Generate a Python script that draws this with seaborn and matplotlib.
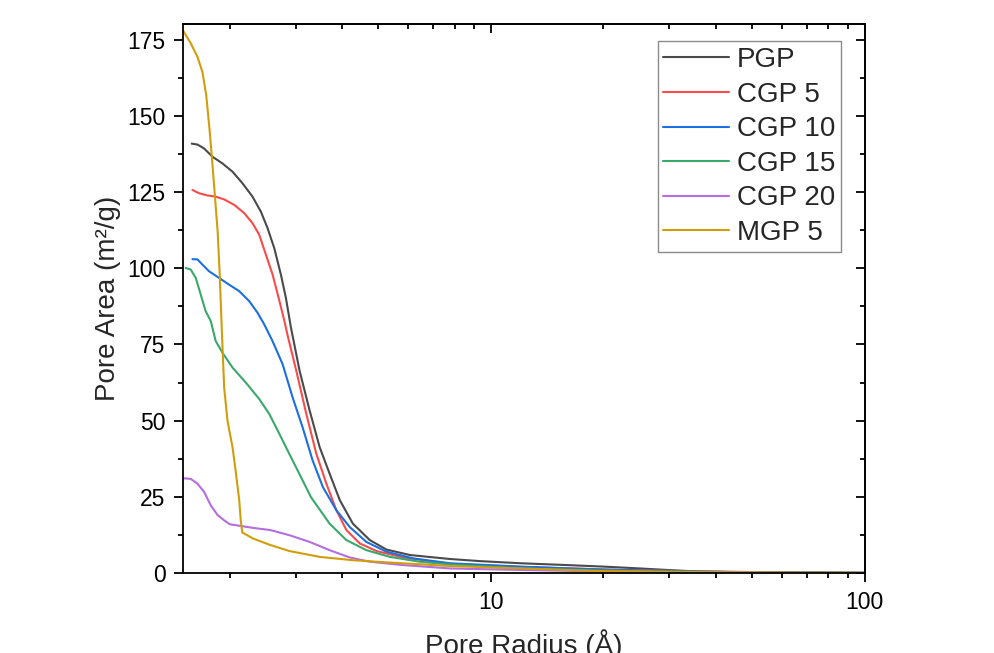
import matplotlib
matplotlib.use("Agg")
import matplotlib.pyplot as plt
import matplotlib.ticker as mticker
import numpy as np
import pandas as pd
import seaborn as sns

# pore radius (Å) / pore area (m²/g)
pgp_x = [1.582, 1.639, 1.708, 1.798, 1.912, 2.034, 2.163, 2.301, 2.422, 2.524, 2.631, 2.741, 2.826, 2.915,
         3.076, 3.272, 3.48, 3.70, 3.94, 4.27, 4.74, 5.25, 6.07, 7.76, 9.35, 12, 16, 20, 25, 29.6, 35.6, 45, 65, 100]
pgp_y = [140.9, 140.6, 139.3, 136.6, 134.4, 131.7, 127.9, 123.5, 118.6, 113.2, 106.6, 97.9, 90.3, 80.6,
         66.3, 53.3, 41.3, 32.6, 23.9, 16.2, 10.8, 7.7, 5.9, 4.6, 3.9, 3.2, 2.6, 2.1, 1.5, 1.0, 0.5, 0.3, 0.15, 0.05]

cgp5_x = [1.589, 1.656, 1.743, 1.834, 1.932, 2.056, 2.186, 2.301, 2.398, 2.498, 2.603, 2.714, 2.799, 2.856,
          3.014, 3.205, 3.41, 3.627, 3.857, 4.103, 4.456, 4.94, 5.82, 7.76, 12, 20, 35, 60, 100]
cgp5_y = [125.7, 124.6, 123.9, 123.5, 122.6, 120.8, 118.1, 114.8, 111.0, 104.5, 98.0, 89.4, 82.8, 78.0,
          66.3, 52.2, 39.1, 29.3, 20.6, 14.1, 9.7, 7.2, 5.1, 3.0, 2.0, 1.2, 0.5, 0.2, 0.05]

cgp10_x = [1.589, 1.639, 1.690, 1.761, 1.874, 1.993, 2.120, 2.255, 2.373, 2.473, 2.603, 2.770, 2.946, 3.133,
           3.333, 3.55, 3.857, 4.188, 4.64, 5.25, 6.19, 7.76, 12, 20, 35, 60, 100]
cgp10_y = [103.0, 102.9, 101.2, 99.0, 96.8, 94.6, 92.5, 89.2, 85.4, 81.6, 76.1, 68.5, 57.6, 47.8,
           36.9, 28.2, 20.6, 15.1, 10.2, 7.0, 4.8, 3.2, 2.1, 1.1, 0.5, 0.2, 0.05]

cgp15_x = [1.524, 1.572, 1.622, 1.672, 1.724, 1.779, 1.834, 1.912, 2.034, 2.208, 2.398, 2.551, 2.714, 2.886,
           3.069, 3.298, 3.70, 4.103, 4.64, 5.36, 6.45, 7.76, 12, 20, 35, 60, 100]
cgp15_y = [100.1, 99.6, 96.8, 91.4, 85.9, 82.7, 76.1, 72.3, 67.4, 62.5, 57.1, 52.2, 45.7, 39.1,
           32.6, 24.9, 16.2, 10.8, 7.5, 5.3, 3.7, 2.8, 1.5, 0.8, 0.4, 0.15, 0.05]

cgp20_x = [1.49, 1.572, 1.639, 1.708, 1.779, 1.856, 1.932, 2.0, 2.31, 2.566, 2.89, 3.272, 3.70, 4.188,
           4.74, 5.82, 7.76, 12, 20, 35, 60, 100]
cgp20_y = [31.1, 30.9, 29.3, 26.6, 22.2, 19.0, 17.3, 16.0, 14.8, 14.1, 12.4, 10.2, 7.5, 5.1,
           3.7, 2.6, 1.5, 1.0, 0.5, 0.3, 0.1, 0.05]

mgp5_x = [1.50, 1.57, 1.64, 1.69, 1.73, 1.768, 1.798, 1.827, 1.856, 1.88, 1.903, 1.932, 1.972, 2.034, 2.073,
          2.12, 2.14, 2.16, 2.31, 2.566, 2.89, 3.48, 4.27, 5.25, 7.76, 12, 19.2, 30, 45, 70, 100]
mgp5_y = [178, 174, 169.3, 164.4, 156.8, 144.8, 133.9, 123.0, 112.1, 97.9, 80.5, 60.9, 50, 41.3, 33.7,
          23.9, 17.3, 13.3, 11.3, 9.2, 7.2, 5.3, 4.2, 3.5, 2.3, 1.5, 0.65, 0.35, 0.2, 0.1, 0.05]

names = ["PGP", "CGP 5", "CGP 10", "CGP 15", "CGP 20", "MGP 5"]
colors = ["#4a4a4a", "#fa4b4b", "#1c6fde", "#3aa86b", "#b46ee0", "#d29d0c"]
series = [(pgp_x, pgp_y), (cgp5_x, cgp5_y), (cgp10_x, cgp10_y),
          (cgp15_x, cgp15_y), (cgp20_x, cgp20_y), (mgp5_x, mgp5_y)]

frames = []
for name, (xs, ys) in zip(names, series):
    frames.append(pd.DataFrame({"radius": xs, "area": ys, "sample": name}))
df = pd.concat(frames, ignore_index=True)

sns.set_style("white")
plt.rcParams["font.family"] = ["Liberation Sans", "DejaVu Sans"]

fig = plt.figure(figsize=(9.95, 6.53), dpi=100)
ax = fig.add_axes([0.184, 0.1225, 0.685, 0.840])

sns.lineplot(data=df, x="radius", y="area", hue="sample", hue_order=names,
             palette=dict(zip(names, colors)), linewidth=1.5, sort=False,
             estimator=None, ax=ax)
for ln in ax.get_lines():
    ln.set_solid_joinstyle("round")

ax.set_xscale("log")
ax.set_xlim(1.5, 100)
ax.set_ylim(0, 180)

ax.yaxis.set_major_locator(mticker.MultipleLocator(25))
ax.yaxis.set_minor_locator(mticker.MultipleLocator(12.5))
ax.xaxis.set_major_formatter(mticker.FuncFormatter(lambda v, p: "%g" % v))
ax.xaxis.set_minor_formatter(mticker.NullFormatter())

for s in ax.spines.values():
    s.set_color("black")
    s.set_linewidth(1.3)

ax.tick_params(which="both", direction="out", width=1.3, labelsize=16.5,
               colors="black", bottom=True, left=True)
ax.tick_params(which="major", length=6.5)
ax.tick_params(which="minor", length=3.5)
ax.tick_params(axis="x", which="major", pad=6.5)
ax.tick_params(axis="y", which="major", pad=6)

# inward ticks on top / right
top = ax.secondary_xaxis("top")
top.xaxis.set_major_locator(mticker.LogLocator(base=10))
top.xaxis.set_minor_locator(mticker.LogLocator(base=10, subs=np.arange(2, 10)))
top.xaxis.set_major_formatter(mticker.NullFormatter())
top.xaxis.set_minor_formatter(mticker.NullFormatter())
top.tick_params(which="both", direction="in", width=1.3, colors="black")
top.tick_params(which="major", length=6.5)
top.tick_params(which="minor", length=3.5)
top.spines["top"].set_linewidth(1.3)

right = ax.secondary_yaxis("right")
right.yaxis.set_major_locator(mticker.MultipleLocator(25))
right.yaxis.set_minor_locator(mticker.MultipleLocator(12.5))
right.yaxis.set_major_formatter(mticker.NullFormatter())
right.tick_params(which="both", direction="in", width=1.3, colors="black")
right.tick_params(which="major", length=6.5)
right.tick_params(which="minor", length=3.5)
right.spines["right"].set_linewidth(1.3)

ax.set_xlabel("Pore Radius (Å)", fontsize=20, labelpad=11)
ax.set_ylabel("Pore Area (m²/g)", fontsize=20, labelpad=5)

leg = ax.legend(loc="upper right", bbox_to_anchor=(0.965, 0.969), borderaxespad=0,
                fontsize=20, frameon=True, fancybox=False, edgecolor="#6e6e6e",
                handlelength=2.35, handletextpad=0.3, labelspacing=0.31,
                borderpad=0.2, title=None)
leg.get_frame().set_linewidth(1.0)

fig.savefig("out.png", dpi=100)
